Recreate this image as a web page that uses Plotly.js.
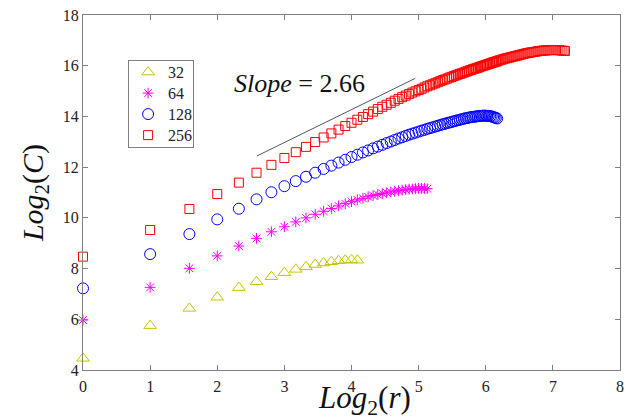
<!DOCTYPE html>
<html>
<head>
<meta charset="utf-8">
<script src="https://cdn.plot.ly/plotly-3.0.1.min.js"></script>
<style>html,body{margin:0;padding:0;background:#fff;}#chart{width:629px;height:419px;}</style>
</head>
<body>
<div id="chart"></div>
<script>
// x positions: Log2(r) for r = 1..72, read as the abscissa of each point
const logR = [0, 1, 1.585, 2, 2.322, 2.585, 2.807, 3, 3.17, 3.322, 3.459, 3.585, 3.70, 3.807, 3.907, 4,
  4.087, 4.17, 4.248, 4.322, 4.392, 4.459, 4.524, 4.585, 4.644, 4.70, 4.755, 4.807, 4.858, 4.907, 4.954, 5,
  5.044, 5.087, 5.129, 5.17, 5.209, 5.248, 5.285, 5.322, 5.358, 5.392, 5.426, 5.459, 5.492, 5.524, 5.555, 5.585,
  5.615, 5.644, 5.672, 5.70, 5.728, 5.755, 5.781, 5.807, 5.833, 5.858, 5.883, 5.907, 5.931, 5.954, 5.977, 6,
  6.022, 6.044, 6.066, 6.087, 6.109, 6.129, 6.15, 6.17];
// extra x positions for the 256 series tail
const logR256Tail = [6.20, 6.23, 6.26, 6.29, 6.32, 6.35, 6.38, 6.41, 6.44, 6.47, 6.50, 6.53, 6.56, 6.59, 6.62,
  6.65, 6.68, 6.71, 6.74, 6.77, 6.80, 6.83, 6.86, 6.89, 6.92, 6.95, 6.98, 7.01, 7.04, 7.07, 7.10, 7.13, 7.16, 7.18];

const seriesNames = ['32', '64', '128', '256'];

const y32 = [4.46, 5.75, 6.43, 6.87, 7.25, 7.48, 7.68, 7.84, 7.97, 8.07, 8.16, 8.22, 8.27, 8.31, 8.33, 8.34, 8.33];

const y64 = [5.97, 7.26, 8.01, 8.50, 8.89, 9.19, 9.45, 9.65, 9.84, 10.00, 10.14, 10.26, 10.37, 10.47, 10.56, 10.64,
  10.71, 10.77, 10.83, 10.88, 10.92, 10.96, 10.99, 11.02, 11.05, 11.07, 11.09, 11.11, 11.13, 11.14, 11.15, 11.16,
  11.16, 11.16, 11.15];

const y128 = [7.22, 8.57, 9.36, 9.94, 10.36, 10.73, 11.01, 11.25, 11.45, 11.62, 11.78, 11.93, 12.06, 12.18, 12.29, 12.40,
  12.49, 12.58, 12.66, 12.74, 12.81, 12.88, 12.95, 13.01, 13.07, 13.13, 13.18, 13.23, 13.28, 13.32, 13.36, 13.40,
  13.44, 13.47, 13.51, 13.54, 13.57, 13.60, 13.63, 13.66, 13.69, 13.71, 13.74, 13.76, 13.78, 13.81, 13.83, 13.85,
  13.87, 13.89, 13.91, 13.93, 13.94, 13.96, 13.97, 13.98, 13.99, 14.00, 14.01, 14.02, 14.02, 14.03, 14.03, 14.03,
  14.02, 14.02, 14.01, 14.00, 13.98, 13.96, 13.94, 13.92];

const y256 = [8.47, 9.52, 10.35, 10.94, 11.39, 11.78, 12.09, 12.36, 12.59, 12.80, 12.99, 13.17, 13.33, 13.48, 13.62, 13.75,
  13.87, 13.98, 14.09, 14.19, 14.29, 14.38, 14.46, 14.54, 14.62, 14.69, 14.76, 14.82, 14.88, 14.94, 14.99, 15.04,
  15.09, 15.14, 15.19, 15.23, 15.27, 15.31, 15.35, 15.39, 15.43, 15.46, 15.49, 15.53, 15.56, 15.59, 15.62, 15.65,
  15.68, 15.70, 15.73, 15.76, 15.78, 15.81, 15.83, 15.86, 15.88, 15.90, 15.92, 15.95, 15.97, 15.99, 16.01, 16.03,
  16.05, 16.07, 16.09, 16.11, 16.13, 16.14, 16.16, 16.18,
  16.21, 16.23, 16.26, 16.28, 16.30, 16.32, 16.34, 16.36, 16.38, 16.40, 16.42, 16.44, 16.46, 16.48, 16.50,
  16.51, 16.53, 16.54, 16.55, 16.57, 16.58, 16.59, 16.60, 16.60, 16.61, 16.61, 16.62, 16.62, 16.62, 16.61, 16.61, 16.60, 16.59, 16.58];

// reference slope line and its label
const slopeLineX = [2.59, 4.95];
const slopeLineY = [12.44, 15.5];
const slopeLabel = '<i>Slope</i> = 2.66';
const slopeLabelPos = [3.22, 15.28];

const xTicks = [0, 1, 2, 3, 4, 5, 6, 7, 8];
const yTicks = [4, 6, 8, 10, 12, 14, 16, 18];

const serif = 'Times New Roman, Liberation Serif, DejaVu Serif, serif';

function mk(name, xs, ys, symbol, color, size) {
  return {
    type: 'scatter', mode: 'markers', name: name, x: xs, y: ys, cliponaxis: false,
    marker: {symbol: symbol, size: size, color: color, line: {color: color, width: 1}}
  };
}

const data = [
  mk(seriesNames[0], logR.slice(0, y32.length), y32, 'triangle-up-open', '#c4c400', 11),
  mk(seriesNames[1], logR.slice(0, y64.length), y64, 'asterisk-open', '#ff00ff', 9),
  mk(seriesNames[2], logR.slice(0, y128.length), y128, 'circle-open', '#0000ff', 11),
  mk(seriesNames[3], logR.concat(logR256Tail), y256, 'square-open', '#ff0000', 9),
  {type: 'scatter', mode: 'lines', x: slopeLineX, y: slopeLineY, showlegend: false,
   line: {color: '#555555', width: 1}, hoverinfo: 'skip'}
];

const axisCommon = {
  showgrid: false, zeroline: false, showline: true, mirror: 'ticks', linecolor: '#808080', linewidth: 1,
  ticks: 'inside', ticklen: 5, tickcolor: '#808080', tickfont: {family: serif, size: 16, color: '#222'}
};

const layout = {
  width: 629, height: 419,
  margin: {l: 83, r: 9, t: 15, b: 49},
  paper_bgcolor: '#fff', plot_bgcolor: '#fff',
  font: {family: serif},
  showlegend: true,
  legend: {
    x: 0.084, y: 0.873, xanchor: 'left', yanchor: 'top',
    bgcolor: '#fff', bordercolor: '#808080', borderwidth: 1,
    font: {family: serif, size: 16, color: '#222'}, itemwidth: 30, tracegroupgap: 0,
    valign: 'middle'
  },
  xaxis: Object.assign({}, axisCommon, {
    range: [0, 8], tickvals: xTicks, ticktext: xTicks.map(String), ticklabelstandoff: 2
  }),
  yaxis: Object.assign({}, axisCommon, {
    range: [4, 18], tickvals: yTicks, ticktext: yTicks.map(String),
    title: {text: '<i>Log</i><sub>2</sub>(<i>C</i>)', font: {family: serif, size: 30, color: '#111'}, standoff: 10}
  }),
  annotations: [{
    x: slopeLabelPos[0], y: slopeLabelPos[1], xref: 'x', yref: 'y', text: slopeLabel, showarrow: false,
    font: {family: serif, size: 26, color: '#111'}
  }, {
    x: 0.525, y: -0.085, xref: 'paper', yref: 'paper', xanchor: 'center', yanchor: 'middle',
    text: '<i>Log</i><sub>2</sub>(<i>r</i>)', showarrow: false,
    font: {family: serif, size: 31, color: '#111'}
  }]
};

Plotly.newPlot('chart', data, layout, {displayModeBar: false, staticPlot: true}).then(function () {
  // tighten legend row spacing to the reference's
  const items = document.querySelectorAll('.legend .traces');
  items.forEach(function (g, i) {
    g.setAttribute('transform', 'translate(0,' + (12 + i * 21) + ')');
  });
  const bg = document.querySelector('.legend .bg');
  if (bg) { bg.setAttribute('height', 12 + 3 * 21 + 12); bg.setAttribute('width', 65); }
});
</script>
</body>
</html>
